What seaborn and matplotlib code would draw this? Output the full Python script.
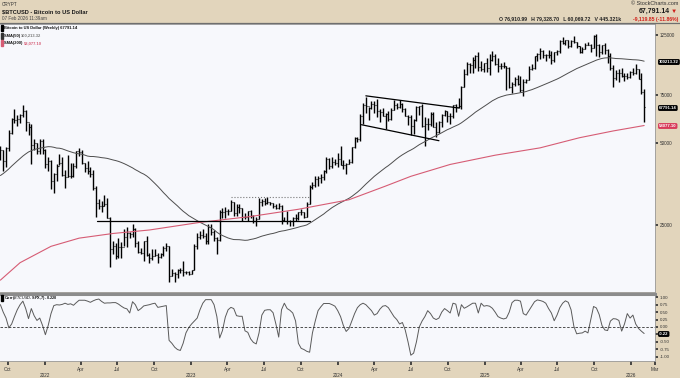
import numpy as np
import pandas as pd
import matplotlib
matplotlib.use("Agg")
import matplotlib.pyplot as plt
from matplotlib.ticker import FixedLocator, NullLocator
from matplotlib.patches import Rectangle
from matplotlib.lines import Line2D
import seaborn as sns

sns.set_theme(style="white")
plt.rcParams['font.family'] = ['Liberation Sans', 'DejaVu Sans']

# weekly closes before the chart window (thousands USD), used for SMA(50)
prior_closes = [11.38, 11.49, 13.03, 13.74, 15.48, 15.96, 18.41, 18.18, 19.15, 19.25, 23.86, 26.27,
                32.78, 38.36, 35.79, 32.29, 33.11, 38.90, 48.58, 57.41, 45.24, 51.21, 59.30, 57.52,
                55.95, 58.73, 59.77, 56.22, 49.00, 56.62, 58.23, 46.43, 34.66, 35.68, 35.80, 39.10,
                35.51, 34.65, 35.29, 34.24, 31.53, 35.40, 39.97, 43.83, 47.05, 49.30, 48.85, 51.75, 45.16]

# weekly bars from week of 2021-09-13 (thousands USD)
close = [
    47.3, 43.2, 48.2, 54.7, 61.5, 61.1, 61.3, 63.3, 65.5, 59.7, 57.3, 49.4, 50.1, 46.7, 50.8, 47.3,
    41.9, 43.1, 36.3, 38.5, 41.4, 42.2, 38.3, 37.7, 38.0, 37.8, 41.3, 46.8, 46.4, 42.2, 40.4, 39.5, 38.5,
    34.3, 30.1, 29.4, 29.4, 29.9, 26.6, 20.5, 21.0, 19.3, 20.8, 20.8, 22.6, 23.3, 23.2, 24.3, 21.5, 20.0, 19.8,
    21.8, 19.4, 18.9, 19.3, 19.4, 19.1, 19.6, 20.6, 20.9, 16.3, 16.7, 16.5, 17.1, 17.1, 16.8, 16.8, 16.6,
    17.1, 20.9, 22.7, 23.0, 22.9, 21.8, 24.6, 23.5, 22.4, 22.1, 28.0, 27.9, 28.2, 28.3, 30.3, 27.6, 29.2,
    28.9, 26.9, 26.7, 28.1, 27.1, 25.9, 26.3, 30.5, 30.6, 30.2, 30.3, 30.1, 29.3, 29.0, 29.4, 26.1, 26.0, 25.8,
    25.8, 26.5, 26.5, 27.9, 27.9, 26.8, 29.9, 34.5, 35.0, 37.1, 37.4, 37.5, 39.5, 43.8, 41.4, 42.6, 42.3,
    43.9, 41.7, 41.6, 42.0, 42.6, 48.3, 52.1, 51.7, 63.1, 68.9, 68.4, 67.2, 69.7, 69.4, 65.7, 64.9, 63.1, 63.9,
    61.5, 66.3, 69.0, 67.8, 69.6, 66.6, 63.2, 62.7, 58.0, 60.8, 68.2, 68.3, 58.1, 58.7, 58.9, 64.2, 57.3,
    54.8, 59.9, 63.6, 65.6, 62.8, 62.8, 69.0, 68.0, 68.7, 80.4, 89.8, 98.0, 97.3, 101.2, 104.5, 95.2, 93.7, 98.4,
    94.5, 101.3, 104.9, 97.7, 96.5, 96.1, 96.3, 94.3, 80.7, 82.6, 86.1, 82.4, 78.4, 83.8, 85.1, 93.7, 94.3,
    104.6, 106.4, 109.0, 105.6, 105.7, 105.5, 100.9, 108.3, 109.2, 119.1, 117.3, 119.4, 114.2, 119.3, 117.4,
    113.5, 108.2, 111.1, 115.3, 115.2, 112.2, 123.5, 115.2, 108.6, 114.5, 110.1, 104.7, 94.2, 86.8, 90.4,
    90.4, 88.2, 88.0, 87.8, 91.5, 90.6, 93.6, 86.5, 76.9, 67.8]
high = [
    48.8, 47.3, 48.5, 56.1, 62.0, 67.0, 63.7, 63.8, 69.0, 66.3, 59.4, 59.1, 51.9, 50.2, 51.9, 52.0,
    47.5, 44.4, 43.5, 38.9, 42.0, 45.8, 44.7, 39.8, 45.4, 42.3, 42.3, 46.9, 48.2, 47.2, 42.4, 43.0, 40.8,
    40.0, 34.8, 31.3, 30.6, 32.2, 31.5, 26.8, 21.9, 21.5, 22.4, 21.6, 24.3, 24.6, 23.6, 25.2, 24.4, 21.8, 20.6,
    21.9, 22.8, 19.7, 20.4, 20.5, 19.7, 19.7, 21.0, 21.5, 21.0, 17.2, 16.8, 17.3, 17.4, 18.4, 16.9, 16.9,
    17.1, 21.4, 23.3, 23.8, 24.2, 23.3, 25.2, 25.2, 23.9, 22.6, 28.5, 28.9, 29.2, 28.6, 31.0, 30.5, 30.0,
    29.8, 29.0, 27.6, 28.3, 28.4, 27.3, 26.7, 31.4, 31.3, 31.4, 31.8, 30.3, 30.1, 29.8, 30.2, 29.6, 26.8, 28.1,
    26.1, 26.8, 27.5, 28.0, 28.6, 28.0, 30.3, 35.2, 35.9, 37.9, 37.9, 38.4, 40.0, 44.7, 44.0, 44.4, 43.8,
    45.9, 49.0, 43.5, 42.2, 43.9, 48.5, 52.8, 52.9, 64.0, 70.1, 73.8, 68.1, 71.7, 71.3, 72.7, 66.9, 67.2, 64.7,
    65.5, 67.4, 71.9, 70.6, 71.9, 70.2, 67.2, 63.4, 63.7, 61.4, 68.3, 68.5, 70.0, 62.7, 61.7, 64.9, 65.0,
    59.8, 60.6, 64.1, 66.5, 65.6, 64.5, 69.4, 69.5, 73.6, 81.5, 93.5, 99.6, 98.7, 104.0, 105.2, 108.3, 99.9, 98.9,
    102.7, 106.0, 109.4, 106.5, 102.5, 98.8, 99.5, 96.5, 95.0, 84.2, 87.5, 88.8, 88.5, 86.1, 86.5, 95.8, 97.9,
    104.9, 107.1, 111.9, 110.4, 106.8, 110.4, 108.9, 108.5, 110.5, 119.5, 123.2, 120.2, 119.8, 119.5, 124.4,
    117.6, 113.5, 113.3, 116.7, 117.9, 115.4, 125.0, 126.2, 116.0, 114.8, 116.4, 110.8, 107.5, 96.6, 93.1,
    94.1, 94.6, 90.4, 90.5, 91.8, 94.8, 97.9, 93.5, 90.5, 79.3]
low = [
    43.3, 39.6, 40.8, 46.9, 53.9, 59.5, 58.0, 59.5, 62.3, 55.6, 53.5, 42.0, 47.1, 45.6, 45.6, 45.7,
    40.7, 39.6, 34.0, 32.9, 36.3, 41.6, 38.0, 34.3, 37.5, 37.2, 37.6, 40.5, 44.9, 41.9, 39.2, 38.5, 37.6,
    33.7, 26.7, 28.7, 28.0, 29.3, 26.5, 17.6, 19.6, 18.7, 19.0, 18.9, 21.0, 20.8, 22.4, 22.7, 20.8, 19.8, 19.6,
    18.5, 19.3, 18.1, 18.6, 19.2, 18.2, 18.9, 19.2, 20.1, 15.5, 16.2, 15.5, 16.0, 16.7, 16.3, 16.5, 16.4,
    16.6, 17.1, 20.4, 22.3, 22.5, 21.4, 21.4, 23.1, 21.9, 19.6, 21.9, 26.6, 26.5, 27.2, 28.2, 27.1, 27.0,
    27.7, 25.8, 26.4, 25.9, 26.6, 25.4, 24.8, 26.3, 29.5, 29.7, 30.0, 29.6, 28.9, 28.6, 28.7, 25.2, 25.8, 25.3,
    24.9, 24.9, 26.0, 26.1, 27.3, 26.6, 26.8, 29.9, 33.9, 34.5, 34.8, 35.7, 36.7, 39.0, 40.2, 40.6, 41.5,
    40.8, 41.5, 40.3, 38.5, 41.9, 42.3, 48.2, 50.6, 50.9, 59.0, 64.6, 60.8, 66.6, 64.5, 62.3, 59.7, 62.8, 56.5,
    60.2, 60.8, 66.3, 67.1, 67.5, 65.1, 62.9, 58.4, 53.5, 54.3, 60.6, 63.5, 57.3, 49.0, 56.1, 57.9, 57.2,
    52.6, 54.6, 57.5, 62.8, 59.9, 58.9, 62.0, 65.1, 67.5, 66.8, 80.2, 89.4, 90.8, 90.5, 94.2, 92.2, 92.5, 91.5,
    91.2, 89.3, 100.2, 97.0, 91.2, 94.1, 94.8, 78.2, 80.0, 76.6, 81.3, 81.6, 77.1, 74.4, 83.1, 85.1, 92.9,
    93.4, 100.7, 102.1, 103.1, 100.4, 103.0, 98.2, 99.6, 105.2, 107.5, 115.8, 114.7, 112.0, 112.7, 116.9,
    111.7, 107.5, 107.3, 110.6, 114.7, 108.6, 111.6, 104.8, 103.5, 106.6, 106.3, 98.9, 93.0, 80.5, 85.3,
    83.8, 87.6, 84.4, 86.5, 86.9, 89.3, 90.0, 86.1, 75.7, 60.1]

# SMA(200) at selected weeks (thousands USD)
sma200_weeks = [0, 7, 18, 28, 40, 53, 71, 89, 106, 124, 137, 146, 160, 176, 192, 206, 218, 229]
sma200_vals = [15.7, 18.2, 20.9, 22.4, 23.3, 24.0, 25.6, 26.9, 28.6, 31.0, 34.8, 37.8, 41.8, 45.2,
               48.1, 52.4, 55.5, 58.1]

# Corr($BTCUSD,$SPX,7), one value per week
corr = [
    0.75, 0.50, 0.30, -0.03, 0.10, 0.35, 0.58, 0.75, 0.87, 0.62, 0.28, 0.62, 0.38, 0.22, 0.30, 0.05,
    -0.26, 0.05, 0.45, 0.72, 0.75, 0.74, 0.76, 0.80, 0.76, 0.78, 0.73, 0.82, 0.90, 0.90, 0.90, 0.87,
    0.83, 0.88, 0.92, 0.94, 0.86, 0.80, 0.81, 0.81, 0.82, 0.82, 0.77, 0.70, 0.64, 0.61, 0.47, 0.85,
    0.75, 0.55, 0.62, 0.71, 0.73, 0.75, 0.78, 0.80, 0.66, 0.68, 0.70, 0.72, -0.45, -0.55, -0.68, -0.76,
    -0.79, -0.55, -0.20, -0.02, 0.10, 0.20, 0.30, 0.58, 0.80, 0.92, 0.92, 0.92, 0.75, 0.35, -0.37, -0.12,
    0.33, 0.58, 0.66, 0.62, 0.38, 0.36, 0.36, -0.13, -0.18, -0.40, -0.52, -0.57, -0.20, 0.40, 0.56, 0.58,
    0.58, 0.48, 0.10, -0.34, 0.58, 0.80, 0.62, 0.56, 0.47, 0.20, -0.55, -0.72, -0.76, -0.82, -0.85, -0.20,
    0.20, 0.55, 0.68, 0.79, 0.79, 0.79, 0.75, 0.70, 0.55, 0.35, 0.05, -0.15, -0.05, 0.20, 0.45, 0.65,
    0.75, 0.80, 0.75, 0.65, 0.55, 0.40, 0.45, 0.60, 0.70, 0.72, 0.65, 0.50, 0.35, 0.25, 0.10, 0.15,
    -0.10, -0.50, -0.95, -0.88, -0.50, 0.00, 0.20, 0.35, 0.55, 0.45, 0.30, 0.25, 0.30, 0.50, 0.62, 0.55,
    0.47, 0.80, 0.77, 0.36, 0.75, 0.63, 0.68, 0.74, 0.80, 0.80, 0.47, 0.80, 0.70, 0.72, 0.70, 0.63,
    0.50, 0.35, 0.30, 0.27, 0.30, 0.50, 0.82, 0.90, 0.90, 0.87, 0.45, 0.40, 0.55, 0.70, 0.85, 0.91,
    0.89, 0.86, 0.80, 0.62, 0.47, 0.21, 0.40, 0.65, 0.80, 0.88, 0.83, 0.58, 0.02, -0.23, -0.21, -0.20,
    -0.14, -0.20, 0.25, 0.69, 0.64, 0.42, 0.05, -0.10, -0.12, 0.20, 0.28, 0.27, 0.22, -0.14, 0.10, 0.45,
    0.30, 0.40, 0.10, -0.05, -0.14, -0.22]

# drawn annotation lines: (start date, end date, start price, end price)
support_line = ['2022-05-12', '2023-10-23', 25.8, 25.8]
resist_line = ['2023-04-10', '2023-10-23', 31.6, 31.6]
chan_top = ['2024-03-11', '2024-10-28', 74.7, 67.4]
chan_bot = ['2024-02-29', '2024-09-09', 58.5, 51.1]

month_ticks = ['2021-10-01', '2022-01-01', '2022-04-01', '2022-07-01', '2022-10-01', '2023-01-01',
               '2023-04-01', '2023-07-01', '2023-10-01', '2024-01-01', '2024-04-01', '2024-07-01',
               '2024-10-01', '2025-01-01', '2025-04-01', '2025-07-01', '2025-10-01', '2026-01-01',
               '2026-03-01']
month_labels = ['Oct', '\n2022', 'Apr', 'Jul', 'Oct', '\n2023', 'Apr', 'Jul', 'Oct', '\n2024', 'Apr',
                'Jul', 'Oct', '\n2025', 'Apr', 'Jul', 'Oct', '\n2026', 'Mar']

# ---- build frames ----
dates = pd.date_range('2021-09-13', periods=len(close), freq='W-MON')
bars = pd.DataFrame({'date': dates, 'close': np.array(close) * 1000,
                     'high': np.array(high) * 1000, 'low': np.array(low) * 1000})
bars['open'] = np.array([prior_closes[-1]] + close[:-1]) * 1000
allc = pd.Series(prior_closes + close) * 1000
bars['sma50'] = allc.rolling(50).mean().iloc[len(prior_closes):].values
sma200 = pd.DataFrame({'date': dates[sma200_weeks], 'val': np.array(sma200_vals) * 1000})
cdf = pd.DataFrame({'date': dates, 'corr': corr})

beige = '#e2d5bc'
panel = '#f7f8fc'
W, H = 680, 378
fx = lambda x: x / W
fy = lambda y: 1 - y / H

fig = plt.figure(figsize=(6.8, 3.78), dpi=100, facecolor=beige)
ax1 = fig.add_axes([0, fy(292), fx(655), (292 - 24) / H], facecolor=panel)
ax2 = fig.add_axes([0, fy(361), fx(655), (361 - 294) / H], facecolor=panel, sharex=ax1)

# price bars
d = bars['date']
off = pd.Timedelta(days=2.5)
ax1.vlines(d, bars['low'], bars['high'], color='black', lw=1.0)
ax1.hlines(bars['open'], d - off, d, color='black', lw=0.8)
ax1.hlines(bars['close'], d, d + off, color='black', lw=0.8)

sns.lineplot(data=bars, x='date', y='sma50', ax=ax1, color='#4d4d4d', lw=0.7)
sns.lineplot(data=sma200, x='date', y='val', ax=ax1, color='#d65c74', lw=0.8)

for ln, style in [(support_line, '-'), (resist_line, ':'), (chan_top, '-'), (chan_bot, '-')]:
    ax1.plot(pd.to_datetime(ln[:2]), np.array(ln[2:]) * 1000, color='black' if style == '-' else '#777',
             lw=0.9 if style == '-' else 0.8, ls=style)

ax1.set_yscale('log')
ax1.set_ylim(14200, 137200)
ax1.yaxis.tick_right()
ax1.yaxis.set_major_locator(FixedLocator([25000, 50000, 75000, 125000]))
ax1.yaxis.set_minor_locator(NullLocator())
ax1.set_yticklabels(['25000', '50000', '75000', '125000'])
ax1.tick_params(axis='y', labelsize=3.3, length=2, pad=1.5, colors='#333')
ax1.tick_params(axis='x', bottom=False, labelbottom=False)
ax1.set_xlabel('')
ax1.set_ylabel('')

# correlation panel
sns.lineplot(data=cdf, x='date', y='corr', ax=ax2, color='#5a5a5a', lw=0.7)
ax2.axhline(0, color='#333', lw=0.6, ls=(0, (3, 2)))
ax2.set_ylim(-1.145, 1.11)
ax2.yaxis.tick_right()
cticks = [1.0, 0.75, 0.5, 0.25, 0.0, -0.25, -0.5, -0.75, -1.0]
ax2.set_yticks(cticks)
ax2.set_yticklabels([f'{t:.2f}' for t in cticks])
ax2.tick_params(axis='y', labelsize=3.2, length=2, pad=1.5, colors='#333')
ax2.set_xlabel('')
ax2.set_ylabel('')

ax2.set_xlim(pd.Timestamp('2021-09-12'), pd.Timestamp('2026-02-28'))
ax2.set_xticks(pd.to_datetime(month_ticks))
ax2.set_xticklabels(month_labels)
ax2.tick_params(axis='x', labelsize=3.4, length=3, pad=1.5, colors='#333', bottom=True)

for ax in (ax1, ax2):
    for s in ax.spines.values():
        s.set_color('#9a9a9a')
        s.set_linewidth(0.6)
    ax.spines['left'].set_visible(False)
ax2.spines['top'].set_color('#8c8c8c')
ax2.spines['top'].set_linewidth(2.2)

# header
fig.add_artist(Line2D([0, 1], [fy(23), fy(23)], color='#6f6f6f', lw=0.9))
fig.text(fx(2), fy(4), 'CRYPT', fontsize=3.3, color='#333', va='center')
fig.text(fx(2), fy(11.7), '$BTCUSD - Bitcoin to US Dollar', fontsize=4.1, weight='bold', color='#1a1a1a', va='center')
fig.text(fx(2), fy(19), '07 Feb 2026 11:39am', fontsize=3.3, color='#444', va='center')
fig.text(fx(678), fy(3.5), '\u00a9 StockCharts.com', fontsize=4.0, color='#333', ha='right', va='center')
fig.text(fx(670), fy(11.5), '67,791.14', fontsize=5.0, weight='bold', color='#1a1a1a', ha='right', va='center')
fig.text(fx(677), fy(11.5), '\u25bc', fontsize=4.5, color='#d0201a', ha='right', va='center')
fig.text(fx(621), fy(19), 'O 76,910.99   H 79,328.70   L 60,069.72   V 445.321k', fontsize=3.7,
         weight='bold', color='#222', ha='right', va='center')
fig.text(fx(678), fy(19), '-9,119.85 (-11.86%)', fontsize=3.7, weight='bold', color='#d0201a',
         ha='right', va='center')

# in-chart legends
legend_rows = [(28.3, 'Bitcoin to US Dollar (Weekly) 67791.14', None, 'black'),
               (35.8, 'SMA(50) ', '100,213.32', '#333333'),
               (43.3, 'SMA(200) ', '58,077.10', '#d65c74')]
fig.canvas.draw()
for y, lab, val, col in legend_rows:
    fig.add_artist(Rectangle((fx(1), fy(y + 3)), fx(1.6), 6 / H, color=col))
    t = fig.text(fx(4), fy(y), lab, fontsize=2.9, weight='bold', color='#111', va='center')
    if val:
        bb = t.get_window_extent(renderer=fig.canvas.get_renderer())
        fig.text(bb.x1 / fig.bbox.width, fy(y), val, fontsize=2.9, weight='bold',
                 color='#777' if col != '#d65c74' else col, va='center')
fig.add_artist(Rectangle((fx(1), fy(300.5)), fx(1.6), 6 / H, color='black'))
fig.text(fx(4), fy(297.5), 'Corr($BTCUSD,$SPX,7) -0.220', fontsize=2.8, weight='bold', color='#111', va='center')

# value tags on the right axis
for y, txt, col in [(62, '100213.32', 'black'), (108, '67791.14', 'black'),
                    (126, '58077.10', '#d83a5a'), (334, '-0.22', 'black')]:
    fig.text(fx(659), fy(y), txt, fontsize=3.1, color='white', va='center', weight='bold',
             bbox=dict(boxstyle='round,pad=0.22,rounding_size=0.35', fc=col, ec='none'))

fig.savefig('out.png', dpi=100, facecolor=beige)
